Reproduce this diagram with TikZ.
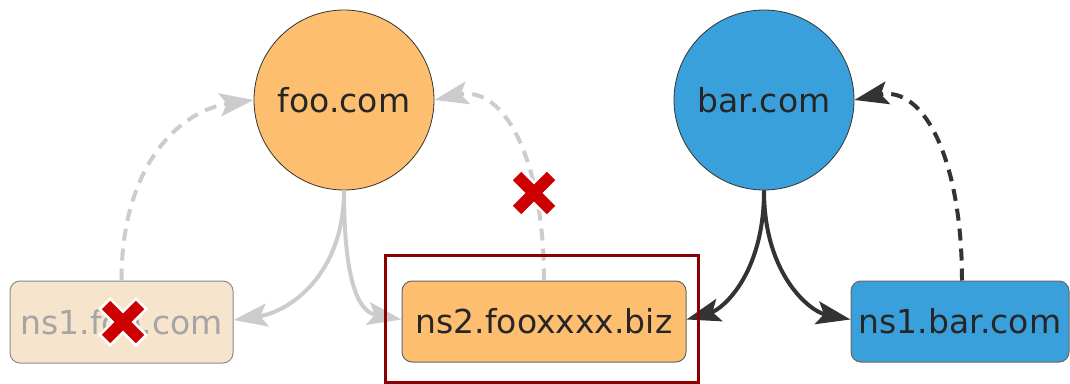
\documentclass[tikz,border=0pt]{standalone}
\usepackage{fontspec}
\setmainfont{DejaVu Sans}
\usetikzlibrary{arrows.meta}
\definecolor{fooorange}{RGB}{253,191,111}
\definecolor{barblue}{RGB}{58,160,220}
\definecolor{fadedfill}{RGB}{246,228,204}
\definecolor{fadedtext}{RGB}{165,165,165}
\definecolor{greyedge}{RGB}{204,204,204}
\definecolor{darkedge}{RGB}{51,51,51}
\definecolor{xred}{RGB}{204,0,0}
\definecolor{framered}{RGB}{139,0,0}
\tikzset{
  every node/.style={font=\fontsize{33}{36}\selectfont, text=black!85},
  site/.style={circle, draw=black!80, line width=0.8pt, minimum size=180pt, inner sep=0pt},
  nsbox/.style={rectangle, rounded corners=10pt, draw=black!60, line width=1pt, inner sep=0pt},
  bigtip/.tip={Stealth[length=34pt,width=23pt,inset=7pt]},
  greyline/.style={-bigtip, draw=greyedge, line width=4pt},
  darkline/.style={-bigtip, draw=darkedge, line width=4pt},
  dashpat/.style={dash pattern=on 12pt off 8pt},
  xarm/.style={line cap=butt},
}
\newcommand{\redcross}[1]{%
  \begin{scope}[shift={#1}]
    \draw[white, line width=17pt, xarm] (-19,-19) -- (19,19) (-19,19) -- (19,-19);
    \draw[xred, line width=12pt, xarm] (-17,-17) -- (17,17) (-17,17) -- (17,-17);
  \end{scope}}
\begin{document}
\begin{tikzpicture}[x=1pt,y=1pt]
\useasboundingbox (0,0) rectangle (1070,383);
% nodes
\node[site, fill=fooorange] (foo) at (344,283) {foo.com};
\node[site, fill=barblue] (bar) at (764,283) {bar.com};
\node[nsbox, fill=fadedfill, draw=black!45, text=fadedtext, minimum width=223pt, minimum height=82pt] (ns1foo) at (121.5,61) {ns1.foo.com};
\node[nsbox, fill=fooorange, minimum width=284pt, minimum height=81pt] (ns2) at (544,61.5) {ns2.fooxxxx.biz};
\node[nsbox, fill=barblue, minimum width=218pt, minimum height=81pt] (ns1bar) at (960,61.5) {ns1.bar.com};
% edges
\draw[greyline] (foo.south) .. controls +(0,-85) and +(55,8) .. ([yshift=2pt]ns1foo.east);
\draw[greyline] (foo.south) .. controls +(0,-85) and +(-45,8) .. ([yshift=2pt]ns2.west);
\draw[greyline, dashpat] (ns1foo.north) .. controls +(0,120) and +(-70,-10) .. (foo.west);
\draw[greyline, dashpat] (ns2.north) .. controls +(0,120) and +(70,15) .. (foo.east);
\draw[darkline] (bar.south) .. controls +(0,-85) and +(35,10) .. ([yshift=2pt]ns2.east);
\draw[darkline] (bar.south) .. controls +(0,-85) and +(-40,8) .. ([yshift=2pt]ns1bar.west);
\draw[darkline, dashpat] ([xshift=2pt]ns1bar.north) .. controls +(0,120) and +(70,15) .. (bar.east);
% crosses
\redcross{(123,61)}
\redcross{(534,190)}
% frame
\node[draw=framered, line width=3pt, minimum width=313pt, minimum height=126pt, inner sep=0pt] (frame) at (541.5,64) {};
\end{tikzpicture}
\end{document}
